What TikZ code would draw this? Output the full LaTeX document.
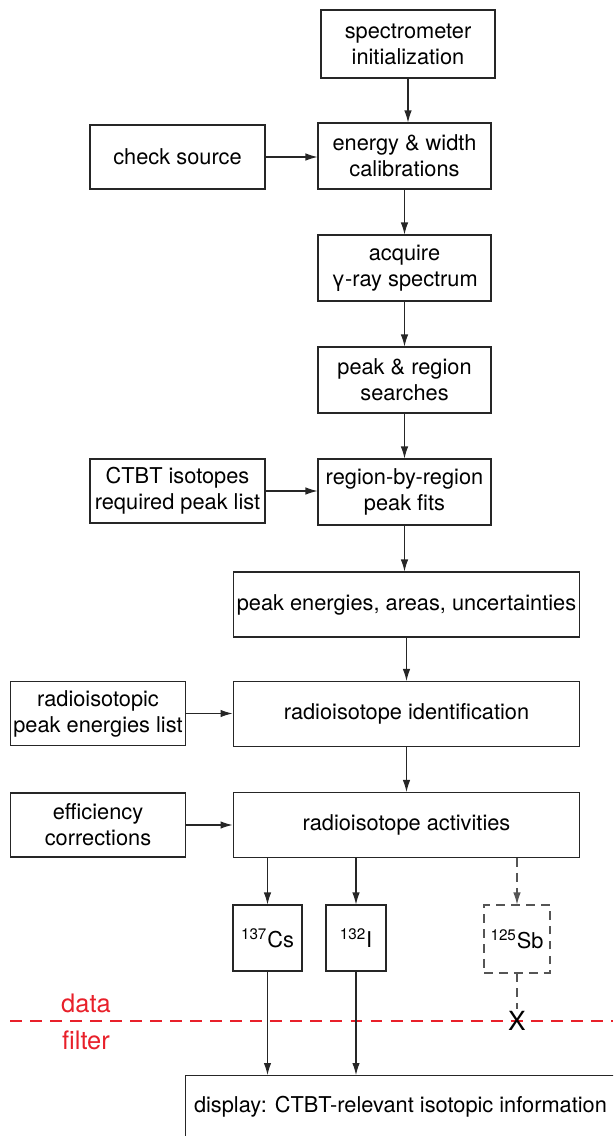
\documentclass[tikz,border=0pt]{standalone}
\usepackage{fontspec}
\setmainfont{TeX Gyre Heros}
\usepackage{xcolor}
\usepackage{tikz}
\usetikzlibrary{positioning, arrows.meta}
\definecolor{fRed}{HTML}{E8202A}
\definecolor{sGray}{HTML}{555555}
\tikzset{
  box/.style={draw=black!85, line width=0.6pt, align=center, inner sep=0pt,
    font=\fontsize{12.4}{14.8}\selectfont},
  colbox/.style={box, minimum width=3.46cm, minimum height=1.32cm},
  widebox/.style={box, minimum width=6.94cm, minimum height=1.3cm},
  sidebox/.style={box, minimum width=3.5cm, minimum height=1.28cm},
  isobox/.style={box, minimum height=1.32cm},
  flow/.style={-{Latex[length=2.4mm, width=1.5mm]}, line width=0.6pt, black!85},
  redtext/.style={text=fRed, font=\fontsize{14.5}{16}\selectfont}}

\begin{document}
\begin{tikzpicture}[x=0.02cm, y=-0.02cm]
  \useasboundingbox (0,0) rectangle (613,1136);
  \clip (0,0) rectangle (613,1136);
  \node[colbox, minimum width=3.48cm, minimum height=1.36cm] (init) at (408,44) {spectrometer\\initialization};
  \node[colbox] (calib) at (404.5,156) {energy \& width\\calibrations};
  \node[sidebox] (check) at (177.5,157) {check source};
  \node[colbox] (acq) at (404.5,268) {acquire\\γ-ray spectrum};
  \node[colbox] (search) at (404.5,380) {peak \& region\\searches};
  \node[sidebox] (req) at (177.5,491) {CTBT isotopes\\required peak list};
  \node[colbox] (fits) at (404.5,492) {region-by-region\\peak fits};
  \node[widebox] (peaks) at (406.5,604.5) {peak energies, areas, uncertainties};
  \node[sidebox] (lib) at (98,713.5) {radioisotopic\\peak energies list};
  \node[widebox] (ident) at (406.5,714) {radioisotope identification};
  \node[sidebox] (eff) at (98,825) {efficiency\\corrections};
  \node[widebox] (act) at (406.5,825) {radioisotope activities};
  \node[isobox, minimum width=1.38cm] (cs) at (267.5,938) {\textsuperscript{137}Cs};
  \node[isobox, minimum width=1.2cm] (iod) at (356,938) {\textsuperscript{132}I};
  \node[isobox, minimum width=1.32cm, minimum height=1.36cm, draw=sGray,
    dash pattern=on 5pt off 3.5pt] (sb) at (517,939) {\textsuperscript{125}Sb};
  \node[box, minimum width=8.6cm, minimum height=1.24cm, anchor=north west] (disp) at (185,1075)
    {display: CTBT-relevant isotopic information};

  \coordinate (fl) at (10,1021);
  \coordinate (fr) at (613,1021);
  \draw[fRed, line width=1.1pt, dash pattern=on 6.8pt off 4.6pt] (fl) -- (fr);
  \node[redtext] (data) at (86,1003) {data};
  \node[redtext] (filt) at (86,1040) {filter};
  \node[font=\fontsize{15}{16}\selectfont, inner sep=1pt] (cut) at (517,1021) {X};

  \draw[flow] (init.south) -- (init.south |- calib.north);
  \draw[flow] (check.east) -- (check.east -| calib.west);
  \draw[flow] (calib) -- (acq);
  \draw[flow] (acq) -- (search);
  \draw[flow] (search) -- (fits);
  \draw[flow] (req.east) -- (req.east -| fits.west);
  \draw[flow] (fits.south) -- (fits.south |- peaks.north);
  \draw[flow] (peaks) -- (ident);
  \draw[flow] (lib.east) -- (lib.east -| ident.west);
  \draw[flow] (ident) -- (act);
  \draw[flow] (eff) -- (act);
  \draw[flow] (act.south -| cs) -- (cs);
  \draw[flow] (act.south -| iod) -- (iod);
  \draw[flow, sGray, dash pattern=on 5pt off 3.5pt] (act.south -| sb) -- (sb);
  \draw[flow] (cs) -- (cs |- disp.north);
  \draw[flow] (iod) -- (iod |- disp.north);
  \draw[sGray, line width=0.6pt, dash pattern=on 5pt off 3.5pt] (sb) -- (cut);
\end{tikzpicture}
\end{document}
